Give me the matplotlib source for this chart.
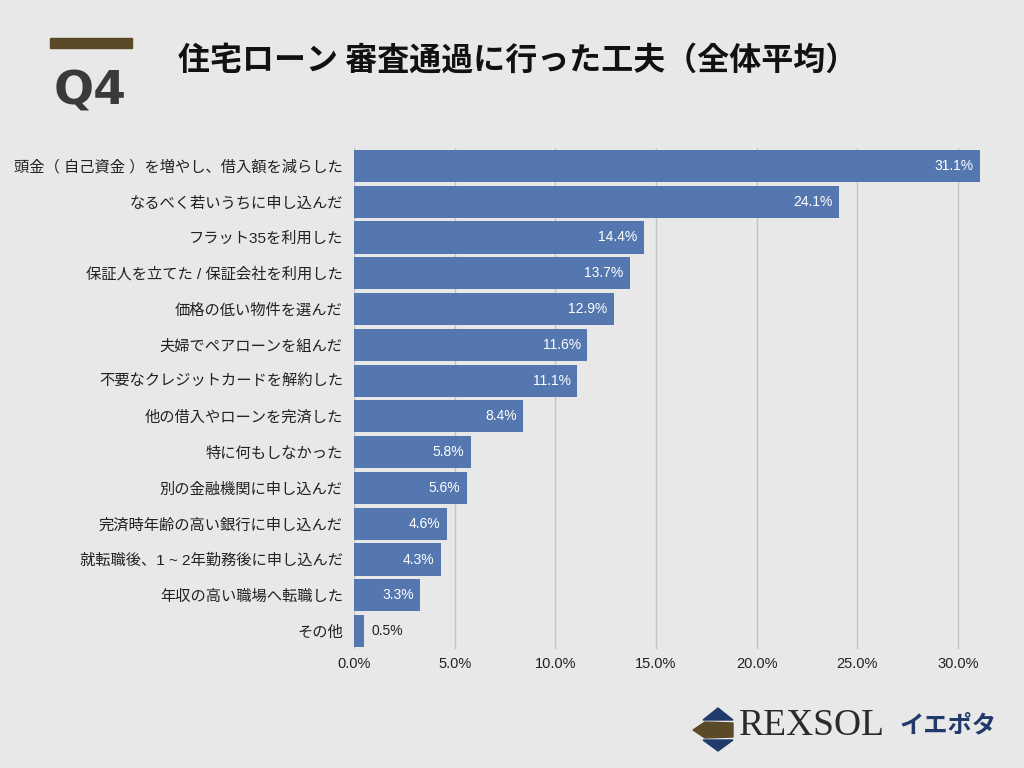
import numpy as np
import matplotlib.pyplot as plt
from matplotlib.patches import Polygon, Rectangle

plt.rcParams['font.family'] = ['Noto Sans CJK JP', 'DejaVu Sans']
mixed = ['Liberation Sans', 'Noto Sans CJK JP']

labels = ["頭金（ 自己資金 ）を増やし、借入額を減らした",
          "なるべく若いうちに申し込んだ",
          "フラット35を利用した",
          "保証人を立てた / 保証会社を利用した",
          "価格の低い物件を選んだ",
          "夫婦でペアローンを組んだ",
          "不要なクレジットカードを解約した",
          "他の借入やローンを完済した",
          "特に何もしなかった",
          "別の金融機関に申し込んだ",
          "完済時年齢の高い銀行に申し込んだ",
          "就転職後、1 ~ 2年勤務後に申し込んだ",
          "年収の高い職場へ転職した",
          "その他"]
values = [31.1, 24.1, 14.4, 13.7, 12.9, 11.6, 11.1, 8.4, 5.8, 5.6, 4.6, 4.3, 3.3, 0.5]
ticks = [0, 5, 10, 15, 20, 25, 30]

bg = '#e8e8e8'
bar_color = '#5577b0'

fig = plt.figure(figsize=(10.24, 7.68), dpi=100, facecolor=bg)
ax = fig.add_axes([354/1024, 1-649/768, 630/1024, 501/768], facecolor=bg)

y = np.arange(len(labels))
ax.barh(y, values, height=0.9, color=bar_color, zorder=3)
ax.set_ylim(len(labels)-0.5, -0.5)
ax.set_xlim(0, 31.3)
ax.set_yticks(y)
ax.set_yticklabels(labels, fontsize=11, color='#222222', family=mixed)
ax.set_xticks(ticks)
ax.set_xticklabels([f"{t:.1f}%" for t in ticks], fontsize=10.5, color='#222222',
                   family='Liberation Sans')
ax.tick_params(length=0, pad=8)
ax.tick_params(axis='x', pad=6)
ax.grid(axis='x', color='#c4c4c4', linewidth=1, zorder=0)
for s in ax.spines.values():
    s.set_visible(False)

for yi, v in zip(y, values):
    if v > 2:
        ax.annotate(f"{v}%", (v, yi), xytext=(-4.5, 0), textcoords='offset points',
                    ha='right', va='center', color='white', fontsize=10,
                    family='Liberation Sans', zorder=4)
    else:
        ax.annotate(f"{v}%", (v, yi), xytext=(5.5, 0), textcoords='offset points',
                    ha='left', va='center', color='#222222', fontsize=10,
                    family='Liberation Sans', zorder=4)

# header
fig.patches.append(Rectangle((50/1024, 1-48/768), 82/1024, 10/768,
                             transform=fig.transFigure, color='#5a4a28'))
fig.text(90/1024, 1-92/768, "Q4", fontsize=34, fontweight='bold', color='#3a3a3a',
         ha='center', va='center', family='DejaVu Sans')
fig.text(178/1024, 1-61/768, "住宅ローン 審査通過に行った工夫（全体平均）", fontsize=23,
         fontweight='bold', color='#111111', ha='left', va='center')

# logo
def fpoly(pts, color):
    fig.patches.append(Polygon([(px/1024, 1-py/768) for px, py in pts], closed=True,
                               transform=fig.transFigure, color=color))

fpoly([(718, 708), (733, 720), (703, 720)], '#1f3a6b')
fpoly([(703, 740), (733, 740), (718, 751)], '#1f3a6b')
fpoly([(693, 730), (705, 722), (733, 723), (733, 737), (705, 738)], '#5a4a28')
fig.text(739/1024, 1-726/768, "REXSOL", fontsize=27, color='#2a2a2a', ha='left',
         va='center', family='Liberation Serif')
fig.text(899/1024, 1-725/768, "イエポタ", fontsize=17.5, fontweight='bold', color='#1f3a6b',
         ha='left', va='center')

fig.savefig('out.png', dpi=100, facecolor=bg)
